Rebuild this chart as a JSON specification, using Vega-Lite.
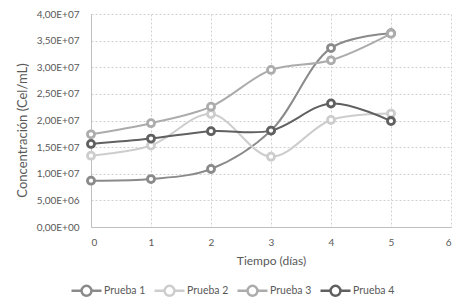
{
  "$schema": "https://vega.github.io/schema/vega-lite/v6.json",
  "width": 360,
  "height": 213,
  "autosize": {"type": "none"},
  "padding": {"left": 91, "top": 14, "right": 16, "bottom": 78},
  "background": "white",
  "data": {
    "values": [
      {"dia": 0, "valor": 8700000, "serie": "Prueba 1"},
      {"dia": 1, "valor": 9000000, "serie": "Prueba 1"},
      {"dia": 2, "valor": 10900000, "serie": "Prueba 1"},
      {"dia": 3, "valor": 18100000, "serie": "Prueba 1"},
      {"dia": 4, "valor": 33600000, "serie": "Prueba 1"},
      {"dia": 5, "valor": 36400000, "serie": "Prueba 1"},
      {"dia": 0, "valor": 13400000, "serie": "Prueba 2"},
      {"dia": 1, "valor": 15300000, "serie": "Prueba 2"},
      {"dia": 2, "valor": 21200000, "serie": "Prueba 2"},
      {"dia": 3, "valor": 13200000, "serie": "Prueba 2"},
      {"dia": 4, "valor": 20100000, "serie": "Prueba 2"},
      {"dia": 5, "valor": 21300000, "serie": "Prueba 2"},
      {"dia": 0, "valor": 17400000, "serie": "Prueba 3"},
      {"dia": 1, "valor": 19500000, "serie": "Prueba 3"},
      {"dia": 2, "valor": 22600000, "serie": "Prueba 3"},
      {"dia": 3, "valor": 29500000, "serie": "Prueba 3"},
      {"dia": 4, "valor": 31300000, "serie": "Prueba 3"},
      {"dia": 5, "valor": 36300000, "serie": "Prueba 3"},
      {"dia": 0, "valor": 15600000, "serie": "Prueba 4"},
      {"dia": 1, "valor": 16600000, "serie": "Prueba 4"},
      {"dia": 2, "valor": 18000000, "serie": "Prueba 4"},
      {"dia": 3, "valor": 18100000, "serie": "Prueba 4"},
      {"dia": 4, "valor": 23200000, "serie": "Prueba 4"},
      {"dia": 5, "valor": 19900000, "serie": "Prueba 4"}
    ]
  },
  "encoding": {
    "x": {
      "field": "dia",
      "type": "quantitative",
      "scale": {"domain": [0, 6], "nice": false},
      "axis": {
        "title": "Tiempo (días)",
        "values": [0, 1, 2, 3, 4, 5, 6],
        "format": "d",
        "labelPadding": 10,
        "titlePadding": 8,
        "titleFontSize": 12
      }
    },
    "y": {
      "field": "valor",
      "type": "quantitative",
      "scale": {"domain": [0, 40000000], "nice": false},
      "axis": {
        "title": "Concentración (Cel/mL)",
        "values": [0, 5000000, 10000000, 15000000, 20000000, 25000000, 30000000, 35000000, 40000000],
        "labelPadding": 12,
        "labelExpr": "datum.value == 0 ? '0,00E+00' : replace(format(datum.value / pow(10, floor(log(datum.value) / LN10 + 1e-9)), '.2f'), '.', ',') + 'E+' + (floor(log(datum.value) / LN10 + 1e-9) < 10 ? '0' : '') + floor(log(datum.value) / LN10 + 1e-9)",
        "titleX": -69,
        "titleY": 116,
        "titleAnchor": "middle",
        "titleAlign": "center",
        "titleBaseline": "middle",
        "titleFontSize": 13
      }
    },
    "color": {
      "field": "serie",
      "type": "nominal",
      "scale": {
        "domain": ["Prueba 1", "Prueba 2", "Prueba 3", "Prueba 4"],
        "range": ["#8a8a8a", "#cdcdcd", "#acacac", "#606060"]
      },
      "legend": {
        "title": null,
        "orient": "none",
        "direction": "horizontal",
        "legendX": -21,
        "legendY": 260,
        "symbolType": "M-1,0H-0.33M0.33,0H1M-0.33,0A0.33,0.33 0 1,0 0.33,0A0.33,0.33 0 1,0 -0.33,0",
        "symbolSize": 900,
        "symbolStrokeWidth": 2.5,
        "symbolFillColor": "white",
        "labelOffset": 1,
        "columnPadding": 3,
        "symbolOffset": 0,
        "labelFontSize": 10.5
      }
    }
  },
  "layer": [
    {
      "mark": {"type": "line", "interpolate": "catmull-rom", "strokeWidth": 2}
    },
    {
      "mark": {"type": "point", "shape": "circle", "filled": false, "fill": "white", "size": 50, "strokeWidth": 2.8, "opacity": 1}
    }
  ],
  "config": {
    "view": {"stroke": null},
    "font": "Lato",
    "axis": {
      "labelFont": "Lato",
      "titleFont": "Lato",
      "labelFontSize": 10,
      "titleFontSize": 10,
      "titleFontWeight": "normal",
      "labelColor": "#595959",
      "titleColor": "#595959",
      "ticks": false,
      "domainColor": "#bfbfbf",
      "gridColor": "#d0d0d0",
      "gridDash": [2, 2],
      "gridWidth": 1
    },
    "legend": {
      "labelFont": "Lato",
      "labelFontSize": 10,
      "labelColor": "#595959"
    }
  }
}
